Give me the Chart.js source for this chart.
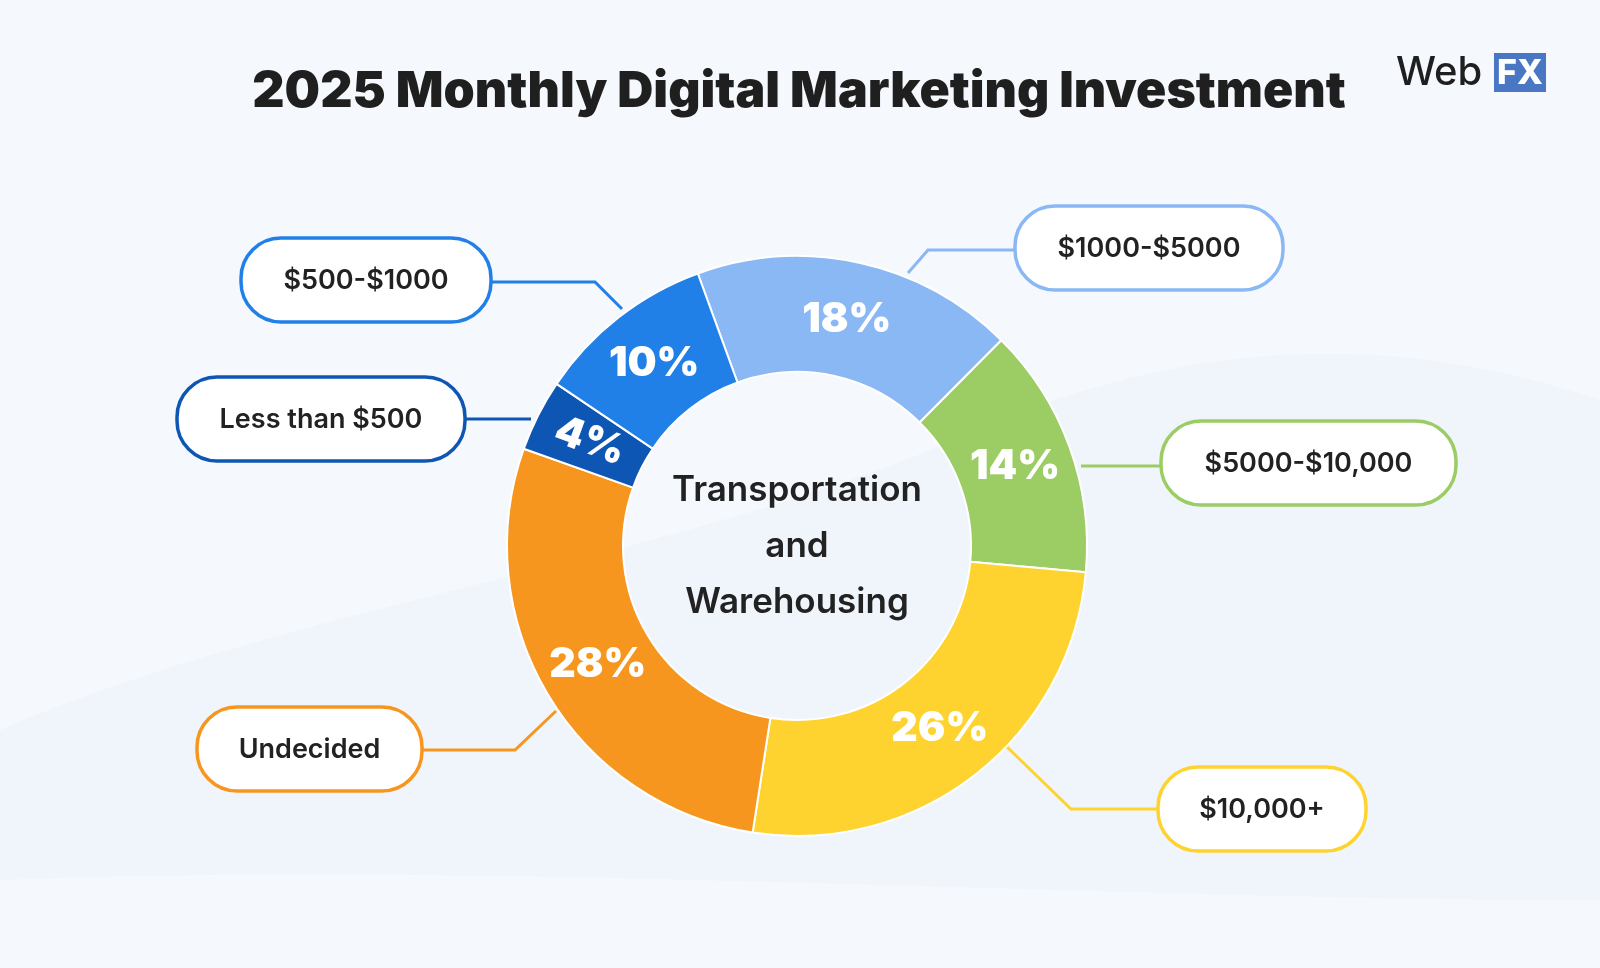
<!DOCTYPE html>
<html>
<head>
<meta charset="utf-8">
<script src="https://cdn.jsdelivr.net/npm/chart.js@4"></script>
<style>
  html, body { margin: 0; padding: 0; background: #f5f8fd; }
  #wrap { width: 1600px; height: 968px; position: relative; }
</style>
</head>
<body>
<div id="wrap"><canvas id="chart" width="1600" height="968"></canvas></div>
<script>
// Données du graphique
const categories = ['$1000-$5000', '$5000-$10,000', '$10,000+', 'Undecided', 'Less than $500', '$500-$1000'];
const shares = [18, 14, 26, 28, 4, 10];
const colors = ['#8ab8f4', '#9ccc64', '#fed32f', '#f7961f', '#0e56b4', '#2180e8'];
const centerLines = ['Transportation', 'and', 'Warehousing'];
const title = '2025 Monthly Digital Marketing Investment';

// Bulles des libellés : [x, y, largeur, hauteur] + ligne de rappel
const callouts = [
  { box: [1015, 206, 268, 84], line: [[908, 273], [928, 250], [1015, 250]] },
  { box: [1161, 421, 295, 84], line: [[1081, 466], [1161, 466]] },
  { box: [1158, 767, 208, 84], line: [[1007, 747], [1071, 809], [1158, 809]] },
  { box: [197, 707, 225, 84], line: [[556, 711], [515, 750], [422, 750]] },
  { box: [177, 377, 288, 84], line: [[531, 419], [465, 419]] },
  { box: [241, 238, 250, 84], line: [[622, 309], [595, 282], [491, 282]] },
];

function roundRect(ctx, x, y, w, h, r) {
  ctx.beginPath();
  ctx.moveTo(x + r, y);
  ctx.arcTo(x + w, y, x + w, y + h, r);
  ctx.arcTo(x + w, y + h, x, y + h, r);
  ctx.arcTo(x, y + h, x, y, r);
  ctx.arcTo(x, y, x + w, y, r);
  ctx.closePath();
}

const backdrop = {
  id: 'backdrop',
  beforeDraw(chart) {
    const ctx = chart.ctx;
    ctx.save();
    ctx.fillStyle = '#f5f8fd';
    ctx.fillRect(0, 0, 1600, 968);
    ctx.fillStyle = '#f0f5fc';
    ctx.beginPath();
    ctx.moveTo(0, 730);
    ctx.bezierCurveTo(300, 600, 700, 560, 1000, 420);
    ctx.bezierCurveTo(1250, 320, 1450, 350, 1600, 400);
    ctx.lineTo(1600, 968);
    ctx.lineTo(0, 968);
    ctx.closePath();
    ctx.fill();
    ctx.fillStyle = '#f5f8fd';
    ctx.beginPath();
    ctx.moveTo(0, 880);
    ctx.bezierCurveTo(500, 860, 1100, 900, 1600, 900);
    ctx.lineTo(1600, 968);
    ctx.lineTo(0, 968);
    ctx.closePath();
    ctx.fill();

    // titre
    ctx.fillStyle = '#1f1f1f';
    ctx.font = '900 50px Inter';
    ctx.textAlign = 'center';
    ctx.textBaseline = 'middle';
    ctx.fillText(title, 799, 92);

    // logo
    ctx.textAlign = 'left';
    ctx.font = '500 40px Inter';
    ctx.fillText('Web', 1396, 73);
    ctx.fillStyle = '#4a77c4';
    ctx.fillRect(1494, 53, 52, 39);
    ctx.fillStyle = '#ffffff';
    ctx.font = '800 34px Inter';
    ctx.textAlign = 'center';
    ctx.fillText('FX', 1520, 74);
    ctx.restore();

    // lignes et bulles
    callouts.forEach((c, i) => {
      ctx.save();
      ctx.strokeStyle = colors[i];
      ctx.lineWidth = 3;
      ctx.beginPath();
      c.line.forEach((p, j) => j ? ctx.lineTo(p[0], p[1]) : ctx.moveTo(p[0], p[1]));
      ctx.stroke();
      const [x, y, w, h] = c.box;
      roundRect(ctx, x, y, w, h, 40);
      ctx.fillStyle = '#ffffff';
      ctx.fill();
      ctx.lineWidth = 3.5;
      ctx.stroke();
      ctx.fillStyle = '#222222';
      ctx.font = '600 27px Inter';
      ctx.textAlign = 'center';
      ctx.textBaseline = 'middle';
      ctx.fillText(categories[i], x + w / 2, y + h / 2 + 1);
      ctx.restore();
    });
  },
  afterDatasetsDraw(chart) {
    const ctx = chart.ctx;
    const meta = chart.getDatasetMeta(0);
    ctx.save();
    ctx.textAlign = 'center';
    ctx.textBaseline = 'middle';
    meta.data.forEach((arc, i) => {
      const mid = (arc.startAngle + arc.endAngle) / 2;
      const r = arc.innerRadius + (arc.outerRadius - arc.innerRadius) * 0.5;
      ctx.save();
      ctx.translate(arc.x + Math.cos(mid) * r, arc.y + Math.sin(mid) * r);
      if (shares[i] < 6) ctx.rotate(0.35);
      ctx.fillStyle = '#ffffff';
      ctx.font = '900 41px Inter';
      ctx.fillText(shares[i] + '%', 0, 0);
      ctx.restore();
    });
    const a = meta.data[0];
    ctx.fillStyle = '#222222';
    ctx.font = '600 35px Inter';
    centerLines.forEach((t, i) => ctx.fillText(t, a.x, a.y + (i - 1) * 56));
    ctx.restore();
  }
};

new Chart(document.getElementById('chart').getContext('2d'), {
  type: 'doughnut',
  data: {
    labels: categories,
    datasets: [{
      data: shares,
      backgroundColor: colors,
      borderColor: '#ffffff',
      borderWidth: 2,
    }],
  },
  options: {
    responsive: false,
    animation: false,
    rotation: -20,
    cutout: '60%',
    layout: { padding: { left: 506, right: 512, top: 255, bottom: 131 } },
    plugins: { legend: { display: false }, tooltip: { enabled: false } },
  },
  plugins: [backdrop],
});
</script>
</body>
</html>
